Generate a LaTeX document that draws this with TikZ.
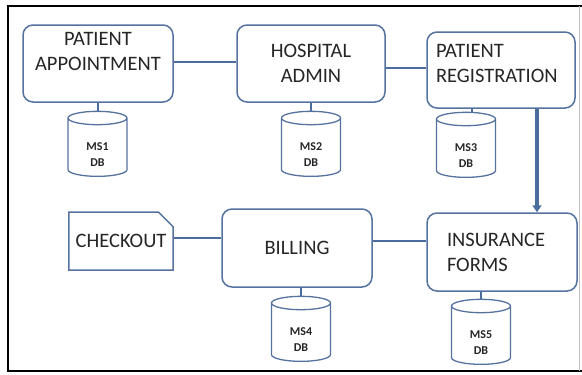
\documentclass[tikz,border=0pt]{standalone}
\usepackage{fontspec}
\setmainfont{Carlito}
\usetikzlibrary{shapes.geometric,shapes.misc,arrows.meta}
\definecolor{boxline}{HTML}{56739F}
\definecolor{conn}{HTML}{4A6C9E}
\definecolor{txt}{HTML}{262626}
\newcommand\dblabel[1]{\raisebox{-11pt}[0pt][0pt]{\begin{tabular}{@{}c@{}}#1\\[-1pt]DB\end{tabular}}}
\tikzset{
  svc/.style={draw=boxline, line width=1.5pt, rounded corners=10pt, fill=white,
    text=txt, font=\fontsize{20.5}{25}\selectfont, align=center, inner sep=0pt},
  db/.style={cylinder, shape border rotate=90, draw=boxline, line width=1.3pt,
    aspect=0.6, minimum width=59pt, minimum height=65pt, inner sep=0pt,
    text=txt, font=\bfseries\fontsize{12}{17}\selectfont},
  link/.style={draw=conn, line width=2.6pt},
  dblink/.style={draw=conn, line width=2pt},
}
\begin{document}
\begin{tikzpicture}[x=1pt,y=-1pt]
\useasboundingbox (0,0) rectangle (582,375);
\fill[white] (0,0) rectangle (582,375);
% frame
\draw[black, line width=2.4pt] (582,6) -- (8,6) -- (8,371) -- (582,371);
\draw[gray!50, line width=0.6pt] (579,6) -- (579,371);

% services
\node[svc, minimum width=150pt, minimum height=77pt] (pa) at (98,63.5)
  {PATIENT\\APPOINTMENT\\~};
\node[svc, minimum width=148pt, minimum height=77pt] (ha) at (311,63.5)
  {HOSPITAL\\ADMIN};
\node[svc, minimum width=148pt, minimum height=76pt, align=left,
  text width=130pt] (pr) at (501,70)
  {PATIENT\\REGISTRATION\\[-11pt]\mbox{}};
\node[chamfered rectangle, chamfered rectangle corners=north east,
  chamfered rectangle xsep=8pt, chamfered rectangle ysep=8pt,
  draw=boxline, line width=1.5pt, text=txt, font=\fontsize{20.5}{25}\selectfont,
  minimum width=104pt, minimum height=58pt, inner sep=0pt] (co) at (121,241)
  {CHECKOUT};
\node[svc, minimum width=150pt, minimum height=78pt] (bi) at (297,248)
  {BILLING};
\node[svc, minimum width=150pt, minimum height=78pt, align=left,
  text width=110pt] (in) at (502,252)
  {INSURANCE\\FORMS};

% databases
\node[db] (d1) at (97.5,147.5) {\dblabel{MS1}};
\node[db] (d2) at (311,147.5) {\dblabel{MS2}};
\node[db] (d3) at (466,148.5) {\dblabel{MS3}};
\node[db] (d4) at (301,332.5) {\dblabel{MS4}};
\node[db] (d5) at (481,335.5) {\dblabel{MS5}};

% connectors
\draw[link] (pa.east |- 0,62) -- (ha.west |- 0,62);
\draw[link] (ha.east |- 0,68) -- (pr.west |- 0,68);
\draw[link] (co.east |- 0,238) -- (bi.west |- 0,238);
\draw[link] (bi.east |- 0,241) -- (in.west |- 0,241);
\draw[draw=conn, line width=3.4pt, -{Triangle[length=7pt,width=9pt]}]
  ([xshift=36pt]pr.south) -- ([xshift=35pt]in.north);
\draw[dblink] (pa.south -| d1.north) -- (d1.north);
\draw[dblink] (ha.south -| d2.north) -- (d2.north);
\draw[dblink] ([xshift=6pt]pr.south -| d3.north) -- ([xshift=6pt]d3.north);
\draw[dblink] (bi.south -| d4.north) -- (d4.north);
\draw[dblink] (in.south -| d5.north) -- (d5.north);
\end{tikzpicture}
\end{document}
